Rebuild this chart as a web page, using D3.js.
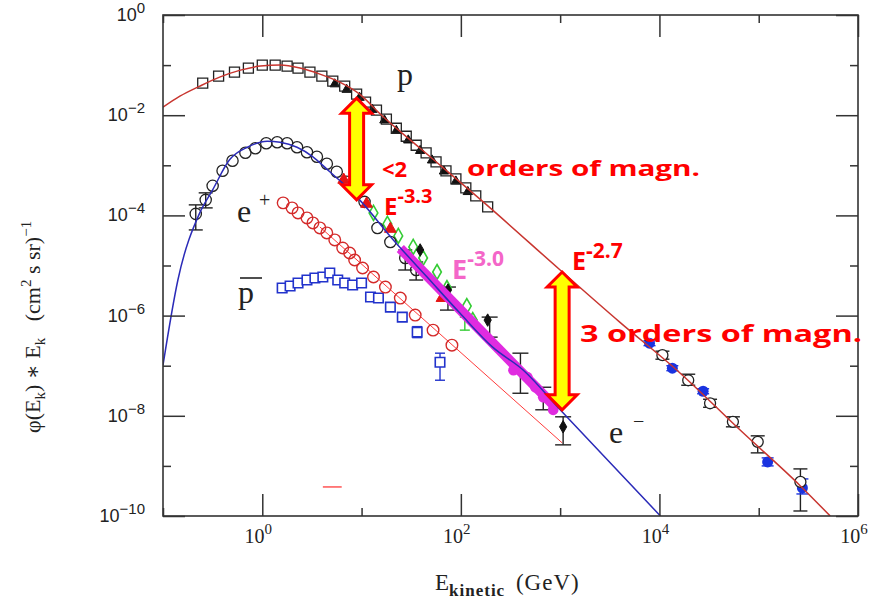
<!DOCTYPE html>
<html>
<head>
<meta charset="utf-8">
<script src="https://cdn.jsdelivr.net/npm/d3@7"></script>
<style>
  body { margin: 0; background: #fff; }
</style>
</head>
<body>
<svg id="chart"></svg>
<script>
// values, as log10(E / GeV) and log10(flux)
// proton fit curve and data
const protonFitLogE = [-1.00, -0.83, -0.63, -0.43, -0.22, -0.02, 0.18, 0.38, 0.58, 0.78, 0.98, 1.19, 1.59, 2.26, 3.00, 3.60, 4.21, 4.81, 5.42, 5.72];
const protonFitLogF = [-1.84, -1.62, -1.42, -1.24, -1.10, -1.02, -1.00, -1.06, -1.18, -1.34, -1.58, -1.98, -2.66, -3.79, -5.09, -6.13, -7.15, -8.28, -9.40, -10.0];
const protonSqLogE = [-0.60, -0.44, -0.28, -0.14, 0.00, 0.13, 0.25, 0.36, 0.48, 0.60, 0.71, 0.83, 0.95, 1.04, 1.15, 1.25, 1.35, 1.45, 1.55, 1.65, 1.75, 1.85, 1.95, 2.05, 2.15, 2.27];
const protonSqLogF = [-1.36, -1.22, -1.14, -1.06, -1.00, -1.00, -1.02, -1.06, -1.14, -1.22, -1.32, -1.42, -1.58, -1.74, -1.90, -2.08, -2.26, -2.42, -2.60, -2.75, -2.93, -3.11, -3.27, -3.45, -3.61, -3.83];
const protonTriLogE = [0.73, 0.85, 0.98, 1.11, 1.23, 1.35, 1.47, 1.59, 1.71, 1.83, 1.95, 2.07];
const protonTriLogF = [-1.38, -1.49, -1.65, -1.89, -2.10, -2.31, -2.50, -2.71, -2.90, -3.12, -3.32, -3.53];
const blueDotLogE = [3.90, 4.13, 4.44, 5.09, 5.44];
const blueDotLogF = [-6.55, -7.05, -7.51, -8.92, -9.44];
const blueDotLo = [-6.60, -7.10, -7.56, -9.00, -9.56];
const blueDotHi = [-6.50, -7.00, -7.46, -8.84, -9.26];
const highCircLogE = [4.03, 4.29, 4.51, 4.74, 4.99, 5.42];
const highCircLogF = [-6.79, -7.29, -7.75, -8.12, -8.52, -9.32];
const highCircLo = [-6.87, -7.39, -7.83, -8.22, -8.74, -9.90];
const highCircHi = [-6.71, -7.17, -7.67, -8.02, -8.40, -9.06];

// electrons
const elFitLogE = [-1.00, -0.85, -0.63, -0.50, -0.33, -0.15, 0.05, 0.18, 0.35, 0.51, 0.68, 0.85, 0.98, 1.32, 1.66, 1.99, 2.32, 2.63, 3.00, 4.01];
const elFitLogF = [-6.99, -5.29, -3.95, -3.49, -2.89, -2.64, -2.52, -2.54, -2.64, -2.83, -3.13, -3.43, -3.69, -4.49, -5.23, -5.95, -6.63, -7.09, -7.88, -10.0];
const elCircLogE = [-0.67, -0.57, -0.50, -0.40, -0.30, -0.17, -0.07, 0.04, 0.15, 0.25, 0.35, 0.45, 0.55, 0.65, 0.75, 0.85, 0.95, 1.03, 1.16, 1.29, 1.44, 1.55];
const elCircLogF = [-3.97, -3.69, -3.41, -3.11, -2.91, -2.75, -2.66, -2.56, -2.54, -2.56, -2.64, -2.74, -2.83, -2.97, -3.13, -3.33, -3.53, -3.73, -4.25, -4.53, -4.85, -5.09];
const elCircLo = [-4.29, -3.85, null, null, null, null, null, null, null, null, null, null, null, null, null, null, null, null, null, null, -5.09, -5.29];
const elCircHi = [-3.79, -3.55, null, null, null, null, null, null, null, null, null, null, null, null, null, null, null, null, null, null, -4.69, -4.93];
const elBarLogE = [1.87, 2.29, 2.60, 2.83, 3.03];
const elBarLo = [-5.89, -6.43, -7.55, -7.88, -8.58];
const elBarHi = [-5.43, -6.03, -6.75, -7.43, -8.02];
const elDiaLogE = [1.59, 1.87, 2.27, 3.03];
const elDiaLogF = [-4.69, -5.49, -6.09, -8.22];
const elTriLogE = [0.82, 1.05, 1.29, 1.81];
const elTriLogF = [-3.29, -3.77, -4.27, -5.65];
const greenLogE = [1.12, 1.26, 1.37, 1.52, 1.62, 1.76, 1.86, 2.06, 2.12];
const greenLogF = [-3.95, -4.17, -4.41, -4.63, -4.85, -5.13, -5.45, -5.81, -6.09];
const greenBarLogE = [2.04];
const greenBarLo = [-6.29];
const greenBarHi = [-6.03];
const magLineLogE = [1.39, 2.97];
const magLineLogF = [-4.66, -7.86];
const magDotLogE = [2.53, 2.67, 2.75, 2.83, 2.93];
const magDotLogF = [-7.09, -7.23, -7.43, -7.63, -7.88];

// positrons
const posLogE = [0.21, 0.30, 0.36, 0.45, 0.51, 0.58, 0.65, 0.73, 0.81, 0.88, 0.93, 1.01, 1.12, 1.24, 1.39, 1.54, 1.72, 1.91];
const posLogF = [-3.75, -3.85, -3.95, -4.05, -4.15, -4.25, -4.35, -4.49, -4.65, -4.75, -4.89, -5.05, -5.23, -5.43, -5.65, -5.99, -6.29, -6.59];
const posFitLogE = [0.58, 3.02];
const posFitLogF = [-4.23, -8.54];

// antiprotons
const pbarLogE = [0.20, 0.28, 0.36, 0.45, 0.53, 0.61, 0.68, 0.76, 0.83, 0.91, 1.00, 1.09, 1.17, 1.29, 1.41, 1.56, 1.79];
const pbarLogF = [-5.45, -5.41, -5.35, -5.29, -5.25, -5.23, -5.15, -5.29, -5.35, -5.39, -5.35, -5.63, -5.65, -5.83, -6.03, -6.33, -6.93];
const pbarLo = [-5.53, -5.49, -5.43, -5.37, -5.33, -5.31, -5.23, -5.37, -5.43, -5.47, -5.43, -5.71, -5.73, -5.91, -6.11, -6.44, -7.29];
const pbarHi = [-5.37, -5.33, -5.27, -5.21, -5.17, -5.15, -5.07, -5.21, -5.27, -5.31, -5.27, -5.55, -5.57, -5.75, -5.95, -6.22, -6.75];

// annotations
const arrowLogE = [0.95, 3.02];
const arrowTopLogF = [-1.66, -5.13];
const arrowBotLogF = [-3.69, -7.88];
const redDashLogE = [0.61, 0.80];
const redDashLogF = [-9.42, -9.42];

// axis ticks
const xMajor = [1e0, 1e2, 1e4, 1e6];
const xMinor = [1e-1, 1e1, 1e3, 1e5];
const xTickLabels = ["0", "2", "4", "6"];
const yMajor = [1e-10, 1e-8, 1e-6, 1e-4, 1e-2, 1e0];
const yMinor = [1e-9, 1e-7, 1e-5, 1e-3, 1e-1];
const yTickLabels = ["\u221210", "\u22128", "\u22126", "\u22124", "\u22122", "0"];

const width = 873, height = 603;
const plot = { left: 163, right: 858, top: 15, bottom: 516 };
const serif = "'Liberation Serif', 'DejaVu Serif', serif";
const sans = "'Liberation Sans', Arial, sans-serif";
const comic = "'Comic Sans MS', 'Open Sans', 'DejaVu Sans', sans-serif";

const svg = d3.select("#chart").attr("width", width).attr("height", height);

const x = d3.scaleLog().domain([1e-1, 1e6]).range([plot.left, plot.right]);
const y = d3.scaleLog().domain([1e-10, 1e0]).range([plot.bottom, plot.top]);

const pts = (le, lf) => le.map((v, i) => ({ e: 10 ** v, f: 10 ** lf[i] }));
const bars = (le, lo, hi) => le.map((v, i) => ({ e: 10 ** v, lo: lo[i], hi: hi[i] }))
                               .filter(d => d.lo !== null);

svg.append("clipPath").attr("id", "clip")
  .append("rect")
  .attr("x", plot.left).attr("y", plot.top)
  .attr("width", plot.right - plot.left).attr("height", plot.bottom - plot.top);

const plotG = svg.append("g").attr("clip-path", "url(#clip)");

const line = d3.line().x(d => x(d.e)).y(d => y(d.f)).curve(d3.curveMonotoneX);

function drawLine(data, color, w) {
  plotG.append("path").datum(data)
    .attr("d", line).attr("fill", "none")
    .attr("stroke", color).attr("stroke-width", w);
}

function drawBars(data, color, cap) {
  const g = plotG.append("g").attr("stroke", color).attr("stroke-width", 1.4);
  data.forEach(d => {
    const cx = x(d.e), y1 = y(10 ** d.lo), y2 = y(10 ** d.hi);
    g.append("line").attr("x1", cx).attr("x2", cx).attr("y1", y1).attr("y2", y2);
    g.append("line").attr("x1", cx - cap).attr("x2", cx + cap).attr("y1", y1).attr("y2", y1);
    g.append("line").attr("x1", cx - cap).attr("x2", cx + cap).attr("y1", y2).attr("y2", y2);
  });
}

function drawSymbols(data, type, size, fill, stroke, sw) {
  plotG.append("g").selectAll("path").data(data).join("path")
    .attr("transform", d => `translate(${x(d.e)},${y(d.f)})`)
    .attr("d", d3.symbol().type(type).size(size))
    .attr("fill", fill).attr("stroke", stroke).attr("stroke-width", sw);
}

// antiprotons
drawBars(bars(pbarLogE, pbarLo, pbarHi), "#2233cc", 5);
drawSymbols(pts(pbarLogE, pbarLogF), d3.symbolSquare, 90, "white", "#2233cc", 1.6);

// positrons
drawLine(pts(posFitLogE, posFitLogF), "#ff3b3b", 1);
drawSymbols(pts(posLogE, posLogF), d3.symbolCircle, 105, "none", "#d42a2a", 1.4);

// electrons
drawBars(bars(elBarLogE, elBarLo, elBarHi), "#222", 8);
drawBars(bars(elCircLogE, elCircLo, elCircHi), "#222", 7);
drawBars(bars(greenBarLogE, greenBarLo, greenBarHi), "#33cc33", 5);
drawSymbols(pts(greenLogE, greenLogF), d3.symbolDiamond, 65, "none", "#33cc33", 1.6);
drawSymbols(pts(elCircLogE, elCircLogF), d3.symbolCircle, 100, "none", "#222", 1.3);
drawSymbols(pts(elTriLogE, elTriLogF), d3.symbolTriangle, 60, "#e51515", "#e51515", 1);
drawSymbols(pts(elDiaLogE, elDiaLogF), d3.symbolDiamond, 45, "#111", "#111", 1);
drawLine(pts(magLineLogE, magLineLogF), "#e02be0", 10);
drawSymbols(pts(magDotLogE, magDotLogF), d3.symbolCircle, 90, "#e02be0", "none", 0);
drawLine(pts(elFitLogE, elFitLogF), "#2b2bb8", 1.5);

// protons
drawSymbols(pts(protonTriLogE, protonTriLogF), d3.symbolTriangle, 38, "#111", "#111", 1);
drawSymbols(pts(protonSqLogE, protonSqLogF), d3.symbolSquare, 100, "none", "#222", 1.3);
drawBars(bars(highCircLogE, highCircLo, highCircHi), "#222", 7);
drawBars(bars(blueDotLogE, blueDotLo, blueDotHi), "#1a33e0", 6);
drawSymbols(pts(blueDotLogE, blueDotLogF), d3.symbolCircle, 95, "#1a33e0", "none", 0);
drawSymbols(pts(highCircLogE, highCircLogF), d3.symbolCircle, 95, "white", "#222", 1.3);
drawLine(pts(protonFitLogE, protonFitLogF), "#c8352f", 1.5);

// small red dash
drawLine(pts(redDashLogE, redDashLogF), "#ff5555", 1.5);

// frame and ticks
svg.append("rect")
  .attr("x", plot.left).attr("y", plot.top)
  .attr("width", plot.right - plot.left).attr("height", plot.bottom - plot.top)
  .attr("fill", "none").attr("stroke", "#333").attr("stroke-width", 1.6);

function ticks(axisFn, scale, vals, size, transform) {
  svg.append("g").attr("transform", transform)
    .call(axisFn(scale).tickValues(vals).tickSize(size).tickFormat(""))
    .call(g => g.select(".domain").remove())
    .call(g => g.selectAll("line").attr("stroke", "#333").attr("stroke-width", 1.5));
}
ticks(d3.axisBottom, x, xMajor, -22, `translate(0,${plot.bottom})`);
ticks(d3.axisBottom, x, xMinor, -8, `translate(0,${plot.bottom})`);
ticks(d3.axisTop, x, xMajor, -22, `translate(0,${plot.top})`);
ticks(d3.axisTop, x, xMinor, -8, `translate(0,${plot.top})`);
ticks(d3.axisLeft, y, yMajor, -22, `translate(${plot.left},0)`);
ticks(d3.axisLeft, y, yMinor, -8, `translate(${plot.left},0)`);
ticks(d3.axisRight, y, yMajor, -22, `translate(${plot.right},0)`);
ticks(d3.axisRight, y, yMinor, -8, `translate(${plot.right},0)`);

// tick labels
svg.append("g").selectAll("text").data(xMajor).join("text")
  .attr("x", d => x(d) - 4).attr("y", 543)
  .attr("text-anchor", "middle")
  .style("font-family", serif).style("font-size", "20px").attr("fill", "#222")
  .each(function (d, i) {
    const t = d3.select(this);
    t.append("tspan").text("10");
    t.append("tspan").attr("dy", -9).style("font-size", "15px").text(xTickLabels[i]);
  });

svg.append("g").selectAll("text").data(yMajor).join("text")
  .attr("x", 145).attr("y", d => y(d) + 6)
  .attr("text-anchor", "end")
  .style("font-family", sans).style("font-size", "18px").attr("fill", "#222")
  .each(function (d, i) {
    const t = d3.select(this);
    t.append("tspan").text("10");
    t.append("tspan").attr("dy", -8).style("font-size", "15px").text(yTickLabels[i]);
  });

// axis titles
const xt = svg.append("text").attr("x", 435).attr("y", 590)
  .style("font-family", serif).style("font-size", "23px").attr("fill", "#222");
xt.append("tspan").text("E");
xt.append("tspan").attr("dy", 6).style("font-size", "17px").style("font-weight", "bold")
  .style("letter-spacing", "1px").text("kinetic");
xt.append("tspan").attr("dy", -6).attr("dx", 4).style("letter-spacing", "1px").text(" (GeV)");

const yt = svg.append("text").attr("transform", "translate(40,433) rotate(-90)")
  .style("font-family", serif).style("font-size", "22px").attr("fill", "#222");
yt.append("tspan").text("\u03c6(E");
yt.append("tspan").attr("dy", 5).style("font-size", "15px").text("k");
yt.append("tspan").attr("dy", -5).text(") \u2217 E");
yt.append("tspan").attr("dy", 5).style("font-size", "15px").text("k");
yt.append("tspan").attr("dy", -5).text("\u00a0\u00a0\u00a0(cm");
yt.append("tspan").attr("dy", -9).style("font-size", "15px").text("2");
yt.append("tspan").attr("dy", 9).text(" s sr)");
yt.append("tspan").attr("dy", -9).style("font-size", "15px").text("\u22121");

// particle labels
function label(txt, px, py, size) {
  return svg.append("text").attr("x", px).attr("y", py)
    .style("font-family", serif).style("font-size", size + "px").attr("fill", "#222").text(txt);
}
label("p", 397, 85, 32);
label("e", 237, 222, 32);
label("+", 259, 207, 20);
label("p", 238, 303, 32);
svg.append("line").attr("x1", 240).attr("x2", 262).attr("y1", 278).attr("y2", 278)
  .attr("stroke", "#222").attr("stroke-width", 1.6);
label("e", 609, 443, 32);
label("\u2212", 633, 428, 20);

// yellow arrows
function arrowPath(cx, y1, y2) {
  const hw = 15, sw = 7, hl = 15;
  return `M${cx},${y1} L${cx + hw},${y1 + hl} L${cx + sw},${y1 + hl} L${cx + sw},${y2 - hl}
          L${cx + hw},${y2 - hl} L${cx},${y2} L${cx - hw},${y2 - hl} L${cx - sw},${y2 - hl}
          L${cx - sw},${y1 + hl} L${cx - hw},${y1 + hl} Z`;
}
arrowLogE.forEach((le, i) => {
  svg.append("path")
    .attr("d", arrowPath(x(10 ** le), y(10 ** arrowTopLogF[i]), y(10 ** arrowBotLogF[i])))
    .attr("fill", "#ffff00").attr("stroke", "#ff0000").attr("stroke-width", 3)
    .attr("stroke-linejoin", "miter");
});

// red annotations
function note(txt, px, py, size, color, len) {
  const t = svg.append("text").attr("x", px).attr("y", py)
    .style("font-family", comic).style("font-size", size + "px").style("font-weight", "bold")
    .attr("fill", color).text(txt);
  if (len) t.attr("textLength", len).attr("lengthAdjust", "spacingAndGlyphs");
  return t;
}
note("<2", 382, 177, 22, "#ff0000");
note("orders of magn.", 467, 176, 22, "#ff0000", 233);
note("3 orders of magn.", 580, 342, 24, "#ff0000", 282);

function power(base, exp, px, py, size, supSize, color) {
  const t = svg.append("text").attr("x", px).attr("y", py)
    .style("font-family", comic).style("font-weight", "bold").attr("fill", color)
    .style("font-size", size + "px");
  t.append("tspan").text(base);
  t.append("tspan").attr("dy", -size * 0.5).style("font-size", supSize + "px").text(exp);
}
power("E", "-3.3", 384, 215, 24, 20, "#ff0000");
power("E", "-3.0", 452, 279, 27, 21, "#f466c8");
power("E", "-2.7", 572, 270, 25, 21, "#ff0000");
</script>
</body>
</html>
